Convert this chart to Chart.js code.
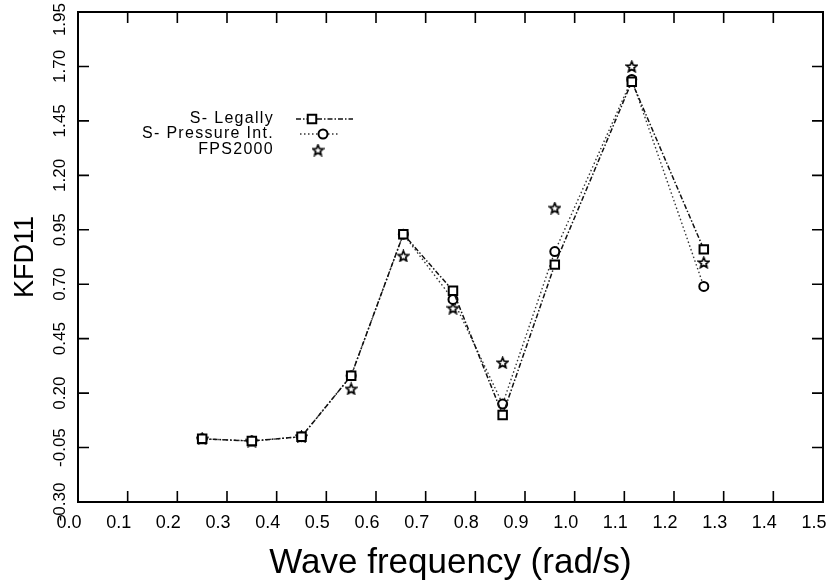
<!DOCTYPE html>
<html lang="en">
<head>
  <meta charset="UTF-8">
  <title>KFD11 vs wave frequency</title>
  <script src="https://cdn.jsdelivr.net/npm/chart.js"></script>
  <style>
    html, body { margin:0; padding:0; background:#fff; }
    #kfd { display:block; }
  </style>
</head>
<body>
  <canvas id="kfd" width="831" height="585"></canvas>

  <script>
    // values
    const freq     = [0.25, 0.35, 0.45, 0.55, 0.655, 0.755, 0.855, 0.96, 1.115, 1.26];
    const legally  = [-0.01, -0.02, 0.00, 0.28, 0.93, 0.67, 0.10, 0.79, 1.63, 0.86];
    const pressure = [-0.01, -0.02, 0.00, 0.28, 0.93, 0.63, 0.15, 0.85, 1.64, 0.69];
    const fps2000  = [-0.01, -0.02, 0.00, 0.22, 0.83, 0.59, 0.34, 1.05, 1.70, 0.80];
    const xTicks = [0.0, 0.1, 0.2, 0.3, 0.4, 0.5, 0.6, 0.7, 0.8, 0.9, 1.0, 1.1, 1.2, 1.3, 1.4, 1.5];
    const yTicks = [-0.30, -0.05, 0.20, 0.45, 0.70, 0.95, 1.20, 1.45, 1.70, 1.95];

    const FONT = '"Liberation Sans", Arial, sans-serif';
    const TICK = 11;

    function makeStar(size) {
      const c = document.createElement('canvas');
      c.width = c.height = size;
      const g = c.getContext('2d');
      const cx = size / 2, cy = size / 2 + 0.5, R = size / 2 - 1, r = R * 0.45;
      g.beginPath();
      for (let i = 0; i < 10; i++) {
        const a = -Math.PI / 2 + i * Math.PI / 5;
        const rad = i % 2 ? r : R;
        g.lineTo(cx + rad * Math.cos(a), cy + rad * Math.sin(a));
      }
      g.closePath();
      g.fillStyle = '#fff'; g.fill();
      g.lineWidth = 1.7; g.strokeStyle = '#000'; g.stroke();
      return c;
    }
    const star = makeStar(13);

    const pts = vals => vals.map((v, i) => ({ x: freq[i], y: v }));

    // frame, inward ticks on all four sides, rotated y labels
    const frame = {
      id: 'frame',
      beforeDatasetsDraw(chart) {
        const { ctx, chartArea: a, scales: { x, y } } = chart;
        ctx.save();
        ctx.strokeStyle = '#000';
        ctx.lineWidth = 2;
        ctx.strokeRect(a.left, a.top, a.right - a.left, a.bottom - a.top);
        ctx.lineWidth = 1.6;
        ctx.beginPath();
        x.ticks.forEach(t => {
          const px = x.getPixelForValue(t.value);
          if (px <= a.left + 1 || px >= a.right - 1) return;
          ctx.moveTo(px, a.bottom); ctx.lineTo(px, a.bottom - TICK);
          ctx.moveTo(px, a.top); ctx.lineTo(px, a.top + TICK);
        });
        y.ticks.forEach(t => {
          const py = y.getPixelForValue(t.value);
          if (py <= a.top + 1 || py >= a.bottom - 1) return;
          ctx.moveTo(a.left, py); ctx.lineTo(a.left + TICK, py);
          ctx.moveTo(a.right, py); ctx.lineTo(a.right - TICK, py);
        });
        ctx.stroke();

        ctx.font = '17px ' + FONT;
        ctx.fillStyle = '#000';
        ctx.textAlign = 'center';
        ctx.textBaseline = 'middle';
        y.ticks.forEach(t => {
          const txt = t.value.toFixed(2);
          const half = ctx.measureText(txt).width / 2;
          const py = Math.max(y.getPixelForValue(t.value), half + 3);
          ctx.save();
          ctx.translate(60, py);
          ctx.rotate(-Math.PI / 2);
          ctx.fillText(txt, 0, 0);
          ctx.restore();
        });
        ctx.restore();
      },
      afterDraw(chart) {
        // legend: right-aligned text, sample to the right
        const { ctx } = chart;
        const rows = [
          { i: 0, y: 119, x0: 296, x1: 353, mx: 312 },
          { i: 1, y: 134, x0: 300, x1: 338, mx: 323 },
          { i: 2, y: 150, x0: 318, x1: 318, mx: 318 }
        ];
        ctx.save();
        ctx.font = '16px ' + FONT;
        ctx.letterSpacing = '1.3px';
        ctx.textAlign = 'right';
        ctx.textBaseline = 'middle';
        rows.forEach(r => {
          const ds = chart.data.datasets[r.i];
          ctx.fillStyle = '#000';
          ctx.fillText(ds.label, 274, r.y);
          if (ds.showLine !== false) {
            ctx.save();
            ctx.strokeStyle = ds.borderColor;
            ctx.lineWidth = ds.borderWidth;
            ctx.setLineDash(ds.borderDash || []);
            ctx.beginPath(); ctx.moveTo(r.x0, r.y); ctx.lineTo(r.x1, r.y); ctx.stroke();
            ctx.restore();
          }
          ctx.strokeStyle = '#000';
          ctx.fillStyle = '#fff';
          ctx.lineWidth = ds.pointBorderWidth;
          Chart.helpers.drawPoint(ctx, {
            pointStyle: ds.pointStyle, radius: ds.pointRadius, rotation: 0, borderWidth: ds.pointBorderWidth
          }, r.mx, r.y);
        });
        ctx.restore();
      }
    };

    new Chart(document.getElementById('kfd'), {
      type: 'line',
      data: {
        datasets: [
          {
            label: 'S- Legally',
            data: pts(legally),
            borderColor: '#111',
            borderWidth: 1.5,
            borderDash: [5, 2, 1.5, 2],
            pointStyle: 'rect',
            pointRadius: 6,
            pointBorderWidth: 2,
            pointBorderColor: '#000',
            pointBackgroundColor: '#fff',
            tension: 0
          },
          {
            label: 'S- Pressure Int.',
            data: pts(pressure),
            borderColor: '#333',
            borderWidth: 1.4,
            borderDash: [1.5, 2.5],
            pointStyle: 'circle',
            pointRadius: 4.5,
            pointBorderWidth: 2,
            pointBorderColor: '#000',
            pointBackgroundColor: '#fff',
            tension: 0
          },
          {
            label: 'FPS2000',
            data: pts(fps2000),
            showLine: false,
            borderColor: '#000',
            borderWidth: 0,
            pointStyle: star,
            pointRadius: 6,
            pointBorderWidth: 1.6
          }
        ]
      },
      options: {
        responsive: false,
        animation: false,
        layout: { padding: { top: 12, right: 5, bottom: 0, left: 0 } },
        plugins: { legend: { display: false }, tooltip: { enabled: false } },
        scales: {
          x: {
            type: 'linear',
            min: 0, max: 1.5,
            afterBuildTicks: s => { s.ticks = xTicks.map(v => ({ value: v })); },
            afterFit: s => { s.height = 83; s.paddingLeft = 0; s.paddingRight = 0; },
            grid: { display: false, drawTicks: false },
            border: { display: false },
            ticks: {
              color: '#000',
              font: { family: FONT, size: 18 },
              padding: 10,
              labelOffset: -9,
              maxRotation: 0,
              autoSkip: false,
              callback: v => v.toFixed(1)
            },
            title: {
              display: true,
              text: 'Wave frequency (rad/s)',
              color: '#000',
              font: { family: FONT, size: 35 },
              padding: { top: 0, bottom: 1 }
            }
          },
          y: {
            min: -0.30, max: 1.95,
            afterBuildTicks: s => { s.ticks = yTicks.map(v => ({ value: v })); },
            afterFit: s => { s.width = 78; s.paddingTop = 0; s.paddingBottom = 0; },
            grid: { display: false, drawTicks: false },
            border: { display: false },
            ticks: { display: false },
            title: {
              display: true,
              text: 'KFD11',
              color: '#000',
              font: { family: FONT, size: 27 },
              padding: { top: 9, bottom: 0 }
            }
          }
        }
      },
      plugins: [frame]
    });
  </script>
</body>
</html>
